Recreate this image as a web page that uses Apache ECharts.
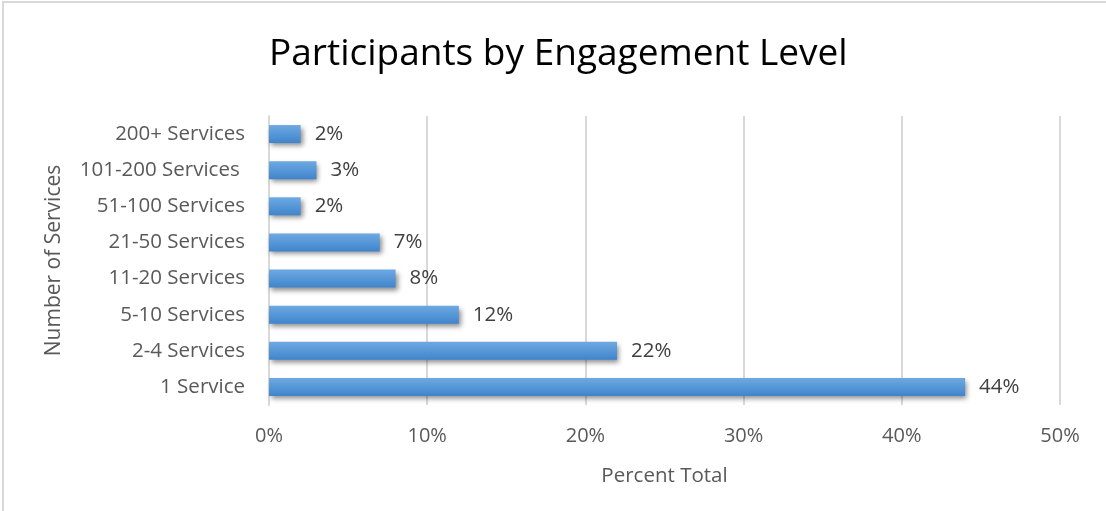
<!DOCTYPE html>
<html><head><meta charset="utf-8">
<script src="https://cdn.jsdelivr.net/npm/echarts@6/dist/echarts.min.js"></script>
<style>
html,body{margin:0;padding:0;background:#fff;}
#frame{position:absolute;left:2px;top:1px;width:1110px;height:520px;border:2px solid #d9d9d9;box-sizing:border-box;}
#c{position:absolute;left:0;top:0;width:1106px;height:511px;}
</style></head>
<body>
<div id="frame"></div>
<div id="c"></div>
<script>
const categories = ['1 Service','2-4 Services','5-10 Services','11-20 Services','21-50 Services','51-100 Services','101-200 Services ','200+ Services'];
const values = [44, 22, 12, 8, 7, 2, 3, 2];
const xTicks = [0, 10, 20, 30, 40, 50];

const chart = echarts.init(document.getElementById('c'), null, {renderer:'canvas'});
const F = 'Open Sans, Liberation Sans, sans-serif';
chart.setOption({
  backgroundColor: 'transparent',
  animation: false,
  title: {text: 'Participants by Engagement Level', left: 264, top: 31,
    textStyle: {fontFamily: F, fontSize: 37, fontWeight: 'normal', color: '#000'}},
  grid: {left: 269, right: 46, top: 116, bottom: 106, containLabel: false},
  xAxis: {type: 'value', min: xTicks[0], max: xTicks[xTicks.length-1], interval: 10,
    name: 'Percent Total', nameLocation: 'middle', nameGap: 61,
    nameTextStyle: {fontFamily: F, fontSize: 20.5, color: '#595959'},
    axisLine: {show: false}, axisTick: {show: false},
    axisLabel: {formatter: v => v + '%', fontFamily: F, fontSize: 20, color: '#595959', margin: 21},
    splitLine: {show: true, lineStyle: {color: '#d9d9d9', width: 2}}},
  yAxis: {type: 'category', data: categories,
    name: 'Number of Services', nameLocation: 'middle', nameGap: 204, nameRotate: 90,
    nameTextStyle: {fontFamily: F, fontSize: 21, color: '#595959'},
    axisLine: {show: true, lineStyle: {color: '#d9d9d9', width: 2}}, axisTick: {show: false},
    axisLabel: {fontFamily: F, fontSize: 20.5, color: '#595959', margin: 24}},
  series: [{type: 'bar', data: values, barWidth: 18,
    itemStyle: {
      color: new echarts.graphic.LinearGradient(0,0,0,1,[{offset:0,color:'#6ea9e2'},{offset:1,color:'#3f85cc'}]),
      shadowColor: 'rgba(0,0,0,0.45)', shadowBlur: 5, shadowOffsetX: 2, shadowOffsetY: 3},
    label: {show: true, position: 'right', distance: 14, formatter: p => p.value + '%',
      fontFamily: F, fontSize: 20.5, color: '#404040'}}]
});
</script>
</body></html>
